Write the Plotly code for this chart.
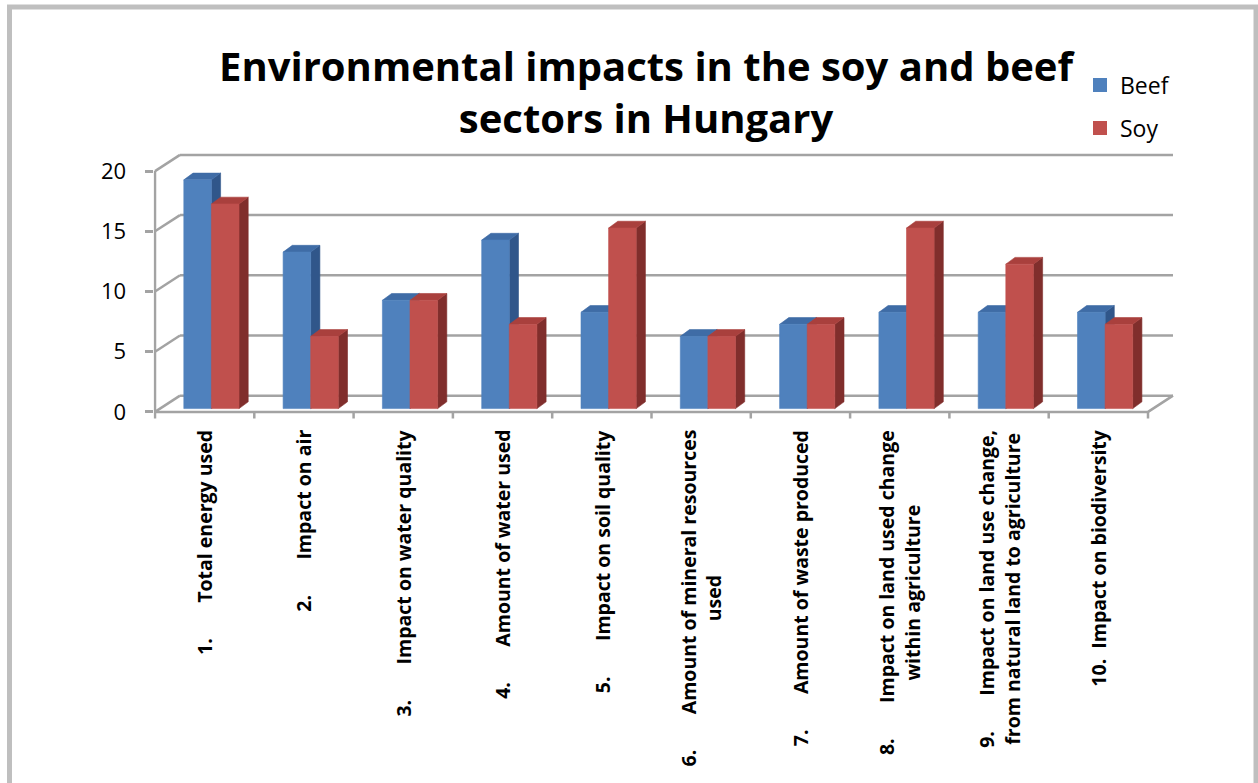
import plotly.graph_objects as go

# ---------------- data ----------------
TAB = "\u00a0" * 7
categories = [
    "1." + TAB + "Total energy used",
    "2." + TAB + "Impact on air",
    "3." + TAB + "Impact on water quality",
    "4." + TAB + "Amount of water used",
    "5." + TAB + "Impact on soil quality",
    "6." + TAB + "Amount of mineral resources<br>used",
    "7." + TAB + "Amount of waste produced",
    "8." + TAB + "Impact on land used change<br>within agriculture",
    "9." + TAB + "Impact on land use change,<br>from natural land to agriculture",
    "10.\u00a0\u00a0Impact on biodiversity",
]
beef = [19, 13, 9, 14, 8, 6, 7, 8, 8, 8]
soy = [17, 6, 9, 7, 15, 6, 7, 15, 12, 7]
y_ticks = [0, 5, 10, 15, 20]
series_names = ["Beef", "Soy"]

# ---------------- style / geometry ----------------
W, H = 1258, 783
FONT = "Open Sans"
GRID = "#A3A3A3"
front_col = {"Beef": "#4F81BD", "Soy": "#C0504D"}
top_col = {"Beef": "#3F6CA6", "Soy": "#A9403D"}
side_col = {"Beef": "#30568A", "Soy": "#802E2C"}

CAT_PX = 99.3      # pixels per category on the front plane
UNIT_PX = 12.1     # pixels per value unit
X_PX0 = 155.0      # pixel of front-left corner (x = -0.5)
Y0_PX = 414.0      # pixel of front floor (y = 0)
D = 25.0 / CAT_PX  # wall depth (x)
DY = 16.3 / UNIT_PX  # wall depth (y)
BDX = 9.2 / CAT_PX   # bar depth (x)
BDY = 6.8 / UNIT_PX  # bar depth (y)
BASE = 3.3 / UNIT_PX  # bar plane lift
BAR_W = 0.278
offsets = {"Beef": -0.21, "Soy": 0.068}

n = len(categories)
xs = list(range(n))
y_top = max(y_ticks)

x_lo = -0.5 - 1.5 / CAT_PX
x_hi = (n - 0.5) + D + 4 / CAT_PX
y_lo = -0.8
y_hi = y_top + DY + 0.3
dom_x = [(X_PX0 + (x_lo + 0.5) * CAT_PX) / W, (X_PX0 + (x_hi + 0.5) * CAT_PX) / W]
dom_y = [(H - (Y0_PX - y_lo * UNIT_PX)) / H, (H - (Y0_PX - y_hi * UNIT_PX)) / H]

fig = go.Figure()

# ---------------- walls / floor ----------------
gx, gy = [], []
for v in y_ticks:
    gx += [-0.5 + D, n - 0.5 + D, None]
    gy += [v + DY, v + DY, None]
    gx += [-0.5, -0.5 + D, None]
    gy += [v, v + DY, None]
gx += [-0.5, -0.5, None]
gy += [0, y_top, None]
gx += [-0.5, n - 0.5, n - 0.5 + D, None]
gy += [0, 0, DY, None]
for b in range(n + 1):
    gx += [b - 0.5, b - 0.5, None]
    gy += [0, -0.55, None]
fig.add_trace(go.Scatter(x=gx, y=gy, mode="lines", line=dict(color=GRID, width=2.5),
                         hoverinfo="skip", showlegend=False))

# ---------------- 3D bars ----------------
for name, vals in zip(series_names, [beef, soy]):
    fx, fy, tx, ty, sx, sy = [], [], [], [], [], []
    for i, v in zip(xs, vals):
        x0 = i + offsets[name]
        x1 = x0 + BAR_W
        b = BASE
        t = BASE + v
        sx += [x1, x1 + BDX, x1 + BDX, x1, x1, None]
        sy += [b, b + BDY, t + BDY, t, b, None]
        tx += [x0, x1, x1 + BDX, x0 + BDX, x0, None]
        ty += [t, t, t + BDY, t + BDY, t, None]
        fx += [x0, x1, x1, x0, x0, None]
        fy += [b, b, t, t, b, None]
    for px, py, col in [(sx, sy, side_col[name]), (tx, ty, top_col[name]), (fx, fy, front_col[name])]:
        fig.add_trace(go.Scatter(x=px, y=py, mode="lines", fill="toself", fillcolor=col,
                                 line=dict(color=col, width=0.6), hoverinfo="skip",
                                 showlegend=False))

# legend entries
for name in series_names:
    fig.add_trace(go.Scatter(x=[None], y=[None], mode="markers", name=name,
                             legendgroup=name,
                             marker=dict(symbol="square", size=14, color=front_col[name])))

# ---------------- category labels ----------------
for i, lab in zip(xs, categories):
    fig.add_annotation(x=i, xref="x", y=(H - 430) / H, yref="paper",
                       text=lab, textangle=-90, showarrow=False,
                       xanchor="center", yanchor="top", align="center",
                       font=dict(family=FONT, size=19.5, color="black", weight="bold"))

# ---------------- layout ----------------
fig.update_layout(
    width=W, height=H, autosize=False,
    margin=dict(l=0, r=0, t=0, b=0),
    paper_bgcolor="white", plot_bgcolor="white",
    title=dict(text="Environmental impacts in the soy and beef<br>sectors in Hungary",
               x=646 / W, xanchor="center", xref="paper",
               y=1 - 81 / H, yanchor="middle", yref="container",
               font=dict(family=FONT, size=40, color="black", weight="bold")),
    xaxis=dict(domain=dom_x, range=[x_lo, x_hi], visible=False, fixedrange=True),
    yaxis=dict(domain=dom_y, range=[y_lo, y_hi], showgrid=False, zeroline=False,
               showline=False, tickmode="array", tickvals=y_ticks,
               ticktext=[str(v) for v in y_ticks],
               ticks="outside", ticklen=8, tickwidth=2.5, tickcolor=GRID,
               ticklabelstandoff=14,
               tickfont=dict(family=FONT, size=22, color="black"), fixedrange=True),
    legend=dict(x=1080 / W, y=1 - 64 / H, xanchor="left", yanchor="top",
                font=dict(family=FONT, size=23, color="black"),
                tracegroupgap=10, bgcolor="rgba(0,0,0,0)", itemclick=False),
    showlegend=True,
    shapes=[dict(type="rect", xref="paper", yref="paper",
                 x0=9.5 / W, x1=1256 / W, y0=-0.2, y1=1 - 7 / H,
                 line=dict(color="#BFBFBF", width=5), layer="above")],
)

fig.write_html("out.html", config={"displayModeBar": False},
               post_script="document.body.style.margin='0';")
